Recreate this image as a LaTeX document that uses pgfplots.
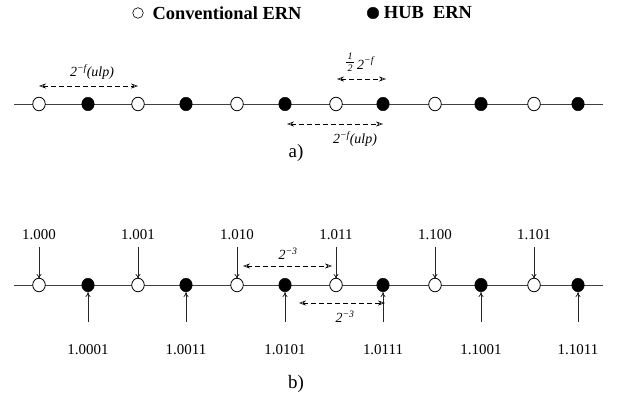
\documentclass[border=0pt]{standalone}
\usepackage{fontspec}
\setmainfont{Liberation Serif}
\usepackage{pgfplots}
\pgfplotsset{compat=1.18}
\usetikzlibrary{arrows.meta}
\newcommand{\mn}{\char"2212\relax}
\tikzset{
  dn/.style={black!85, line width=0.8pt, -{To[length=5pt,width=5pt]}},
  da/.style={dash pattern=on 4.5pt off 3.5pt, line width=0.6pt, {Stealth[open,length=7pt,width=5pt]}-{Stealth[open,length=7pt,width=5pt]}},
  lb/.style={font=\fontsize{15}{17}\selectfont},
  il/.style={font=\fontsize{14}{16}\selectfont\itshape},
}
\begin{document}
\begin{tikzpicture}
\begin{axis}[
  scale only axis, width=621bp, height=403bp,
  xmin=0, xmax=621, ymin=0, ymax=403,
  hide axis, clip=false,
]
\path (axis cs:0,0) rectangle (axis cs:621,403);
% axis lines
\addplot[black!75, line width=0.9pt] coordinates {(14,299) (603,299)};
\addplot[black!75, line width=0.9pt] coordinates {(14,118) (603,118)};
% part a circles
\addplot[only marks, mark=*, mark size=6.3pt, mark options={fill=white, draw=black, line width=0.8pt, yscale=1.08}]
  coordinates {(39,299) (138,299) (237,299) (336,299) (435,299) (534,299)};
\addplot[only marks, mark=*, mark size=6.3pt, mark options={fill=black, draw=black, yscale=1.08}]
  coordinates {(88,299) (186,299) (285,299) (383,299) (481,299) (578,299)};
% part b circles
\addplot[only marks, mark=*, mark size=6.3pt, mark options={fill=white, draw=black, line width=0.8pt, yscale=1.08}]
  coordinates {(39,118) (138,118) (237,118) (336,118) (435,118) (534,118)};
\addplot[only marks, mark=*, mark size=6.3pt, mark options={fill=black, draw=black, yscale=1.08}]
  coordinates {(88,118) (186,118) (285,118) (383,118) (481,118) (578,118)};
% legend symbols
\addplot[only marks, mark=*, mark size=5.3pt, mark options={fill=white, draw=black, line width=0.6pt}]
  coordinates {(138,390)};
\addplot[only marks, mark=*, mark size=5.8pt, mark options={fill=black, draw=black}]
  coordinates {(373,390)};
\node[font=\fontsize{18.5}{20}\selectfont\bfseries] at (axis cs:227,390) {Conventional ERN};
\node[font=\fontsize{18.5}{20}\selectfont\bfseries] at (axis cs:428,390) {HUB\ \ ERN};
% part a dashed arrows
\draw[da] (axis cs:39,317) -- (axis cs:138,317);
\node[il] at (axis cs:92,331) {2\textsuperscript{\mn f}(ulp)};
\draw[da] (axis cs:337,324) -- (axis cs:386,324);
\node[font=\fontsize{10}{10}\selectfont\itshape, inner sep=0pt] at (axis cs:350,347) {1};
\draw[black, line width=0.4pt] (axis cs:346,341) -- (axis cs:354,341);
\node[font=\fontsize{10}{10}\selectfont\itshape, inner sep=0pt] at (axis cs:350,335) {2};
\node[il, anchor=west, inner sep=0pt] at (axis cs:357,340) {2\textsuperscript{\mn f}};
\draw[da] (axis cs:287,279) -- (axis cs:383,279);
\node[il] at (axis cs:355,264) {2\textsuperscript{\mn f}(ulp)};
\node[font=\fontsize{19}{21}\selectfont] at (axis cs:296,250) {a)};
% part b solid arrows, top
\draw[dn] (axis cs:39,156) -- (axis cs:39,124);
\draw[dn] (axis cs:138,156) -- (axis cs:138,124);
\draw[dn] (axis cs:237,156) -- (axis cs:237,124);
\draw[dn] (axis cs:336,156) -- (axis cs:336,124);
\draw[dn] (axis cs:435,156) -- (axis cs:435,124);
\draw[dn] (axis cs:534,156) -- (axis cs:534,124);
\node[lb] at (axis cs:39,168) {1.000};
\node[lb] at (axis cs:138,168) {1.001};
\node[lb] at (axis cs:237,168) {1.010};
\node[lb] at (axis cs:336,168) {1.011};
\node[lb] at (axis cs:435,168) {1.100};
\node[lb] at (axis cs:534,168) {1.101};
% part b solid arrows, bottom
\draw[dn] (axis cs:88,81) -- (axis cs:88,111);
\draw[dn] (axis cs:186,81) -- (axis cs:186,111);
\draw[dn] (axis cs:285,81) -- (axis cs:285,111);
\draw[dn] (axis cs:383,81) -- (axis cs:383,111);
\draw[dn] (axis cs:481,81) -- (axis cs:481,111);
\draw[dn] (axis cs:578,81) -- (axis cs:578,111);
\node[lb] at (axis cs:88,53) {1.0001};
\node[lb] at (axis cs:186,53) {1.0011};
\node[lb] at (axis cs:285,53) {1.0101};
\node[lb] at (axis cs:383,53) {1.0111};
\node[lb] at (axis cs:481,53) {1.1001};
\node[lb] at (axis cs:578,53) {1.1011};
% part b dashed arrows
\draw[da] (axis cs:243,137) -- (axis cs:332,137);
\node[il] at (axis cs:288,149) {2\textsuperscript{\mn 3}};
\draw[da] (axis cs:299,100) -- (axis cs:385,100);
\node[il] at (axis cs:345,86) {2\textsuperscript{\mn 3}};
\node[font=\fontsize{19}{21}\selectfont] at (axis cs:296,19) {b)};
\end{axis}
\end{tikzpicture}
\end{document}
